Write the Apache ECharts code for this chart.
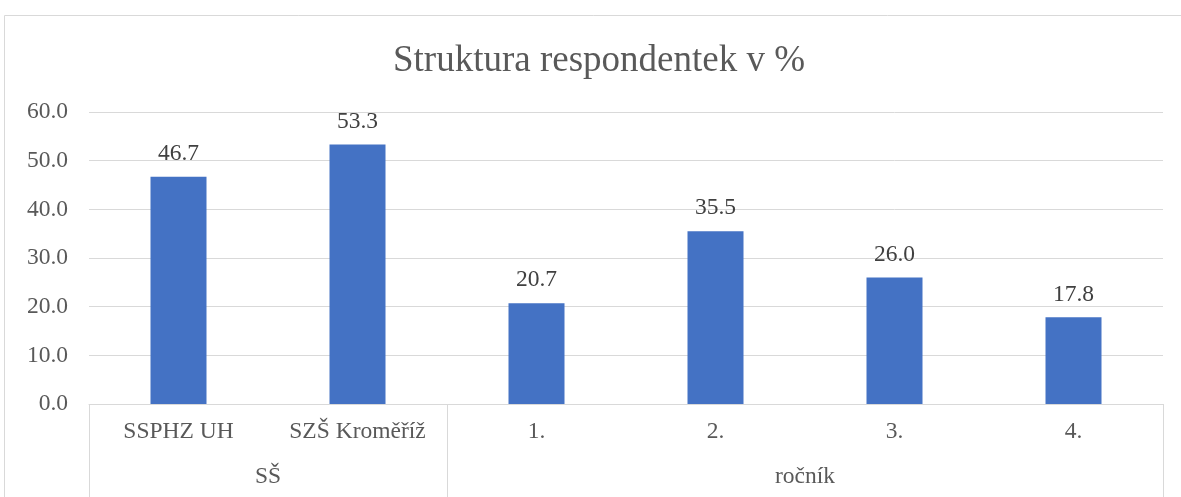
<!DOCTYPE html>
<html>
<head>
<meta charset="utf-8">
<script src="https://cdn.jsdelivr.net/npm/echarts@6/dist/echarts.min.js"></script>
<style>
  html, body { margin: 0; padding: 0; background: #fff; }
  #main { width: 1181px; height: 497px; }
</style>
</head>
<body>
<div id="main"></div>
<script>
// data
var categories = ['SSPHZ UH', 'SZŠ Kroměříž', '1.', '2.', '3.', '4.'];
var values = [46.7, 53.3, 20.7, 35.5, 26.0, 17.8];
// group row: 7 boundary points, labels sit on boundary 1 (SŠ) and 4 (ročník)
var groupLabels = ['', 'SŠ', '', '', 'ročník', '', ''];
var groupBounds = [0, 2, 6];

var serif = '"Liberation Serif", "Times New Roman", serif';
var fs = 23.5;
var chart = echarts.init(document.getElementById('main'));

chart.setOption({
  animation: false,
  title: {
    text: 'Struktura respondentek v %',
    left: 388,
    top: 38,
    textStyle: { fontFamily: serif, fontSize: 37, fontWeight: 'normal', color: '#595959' }
  },
  graphic: [{
    type: 'rect',
    shape: { x: 4.5, y: 15.5, width: 1300, height: 600 },
    style: { fill: 'none', stroke: '#d9d9d9', lineWidth: 1 },
    silent: true
  }],
  grid: { left: 89, right: 18, top: 112, bottom: 93 },
  xAxis: [{
    type: 'category',
    data: categories,
    axisLine: { lineStyle: { color: '#d9d9d9' } },
    axisTick: { show: false },
    axisLabel: { interval: 0, fontFamily: serif, fontSize: fs, color: '#595959', margin: 16 }
  }, {
    type: 'category',
    data: groupLabels,
    boundaryGap: false,
    position: 'bottom',
    axisLine: { show: false },
    axisTick: {
      show: true,
      length: 95,
      interval: function (i) { return groupBounds.indexOf(i) >= 0; },
      lineStyle: { color: '#d9d9d9' }
    },
    axisLabel: { interval: 0, fontFamily: serif, fontSize: fs, color: '#595959', margin: 61 }
  }],
  yAxis: {
    type: 'value',
    min: 0,
    max: 60,
    interval: 10,
    axisLine: { show: false },
    axisTick: { show: false },
    splitLine: { lineStyle: { color: '#d9d9d9' } },
    axisLabel: {
      fontFamily: serif, fontSize: fs, color: '#595959', margin: 21,
      formatter: function (v) { return v.toFixed(1); }
    }
  },
  series: [{
    type: 'bar',
    data: values,
    barWidth: 56,
    itemStyle: { color: '#4472C4' },
    label: {
      show: true,
      position: 'top',
      distance: 11,
      fontFamily: serif,
      fontSize: fs,
      color: '#404040',
      formatter: function (p) { return p.value.toFixed(1); }
    }
  }]
});
</script>
</body>
</html>
